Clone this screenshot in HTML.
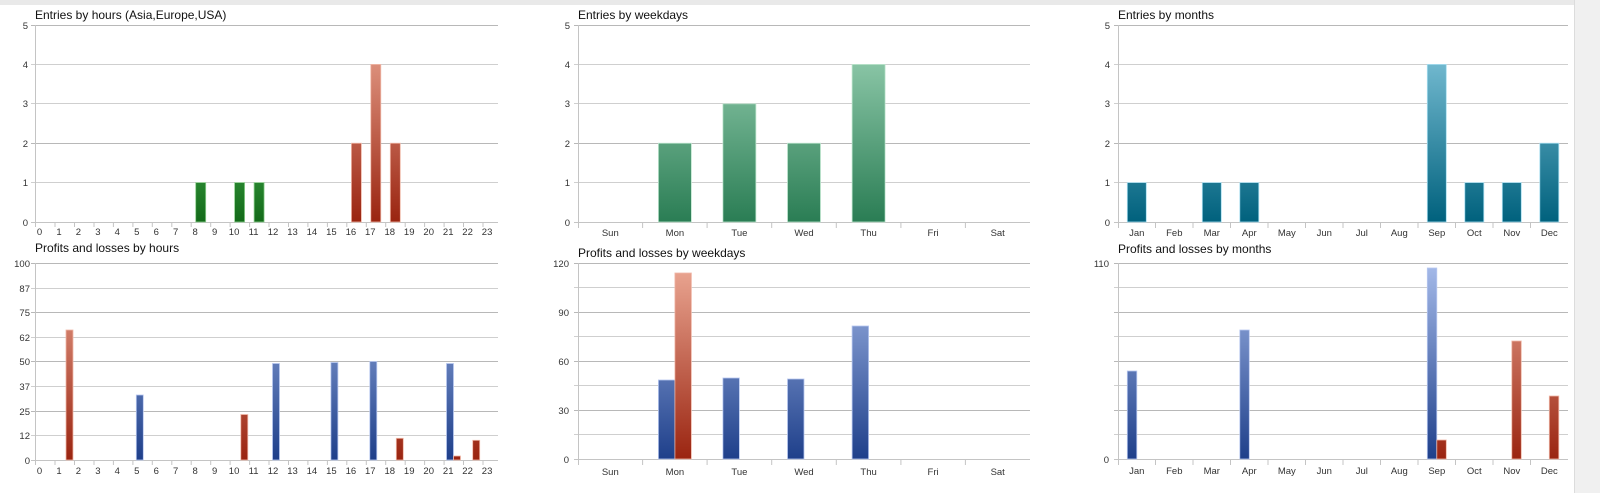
<!DOCTYPE html>
<html><head><meta charset="utf-8"><style>
html,body{margin:0;padding:0;background:#fff;width:1600px;height:493px;overflow:hidden}
svg{display:block;font-family:"Liberation Sans",sans-serif}
.t{font-size:12px;fill:#111}
.a{font-size:9.5px;fill:#333}
.g{stroke:#cfcfcf;stroke-width:1}
.gd{stroke:#b8b8b8;stroke-width:1}
.ax{stroke:#c4c4c4;stroke-width:1}
</style></head><body>
<svg width="1600" height="493" viewBox="0 0 1600 493">
<defs>
<linearGradient id="red" gradientUnits="userSpaceOnUse" x1="0" y1="25" x2="0" y2="222"><stop offset="0" stop-color="#eca995"/><stop offset="1" stop-color="#9a2410"/></linearGradient>
<linearGradient id="red2" gradientUnits="userSpaceOnUse" x1="0" y1="263" x2="0" y2="460"><stop offset="0" stop-color="#eca995"/><stop offset="1" stop-color="#9a2410"/></linearGradient>
<linearGradient id="blue2" gradientUnits="userSpaceOnUse" x1="0" y1="263" x2="0" y2="460"><stop offset="0" stop-color="#a6bbea"/><stop offset="1" stop-color="#1e3f8a"/></linearGradient>
<linearGradient id="grn" x1="0" y1="0" x2="0" y2="1"><stop offset="0" stop-color="#27842e"/><stop offset="1" stop-color="#136a19"/></linearGradient>
<linearGradient id="wg" gradientUnits="userSpaceOnUse" x1="0" y1="25" x2="0" y2="222"><stop offset="0" stop-color="#a0d6b9"/><stop offset="1" stop-color="#2a7d54"/></linearGradient>
<linearGradient id="teal" gradientUnits="userSpaceOnUse" x1="0" y1="25" x2="0" y2="222"><stop offset="0" stop-color="#8ccde2"/><stop offset="1" stop-color="#00617d"/></linearGradient>
</defs>
<rect x="0" y="0" width="1600" height="5" fill="#e9e9e9"/>
<rect x="1574" y="0" width="26" height="493" fill="#f0f0f0"/>
<line x1="1574.5" y1="0" x2="1574.5" y2="493" stroke="#dcdcdc"/>

<!-- ============ Chart 1 top ============ -->
<text class="t" x="35" y="19">Entries by hours (Asia,Europe,USA)</text>
<g>
<line class="gd" x1="31" y1="25.5" x2="498" y2="25.5"/>
<line class="g" x1="31" y1="64.5" x2="498" y2="64.5"/>
<line class="g" x1="31" y1="103.5" x2="498" y2="103.5"/>
<line class="gd" x1="31" y1="143.5" x2="498" y2="143.5"/>
<line class="g" x1="31" y1="182.5" x2="498" y2="182.5"/>
<line class="ax" x1="31" y1="222.5" x2="498" y2="222.5"/>
<line class="ax" x1="35.5" y1="25" x2="35.5" y2="222"/>
</g>
<g class="a" text-anchor="end">
<text x="28" y="29">5</text><text x="28" y="68">4</text><text x="28" y="107">3</text><text x="28" y="147">2</text><text x="28" y="186">1</text><text x="28" y="226">0</text>
</g>
<g stroke="#c4c4c4">
<path d="M35.5 222v5M55 222v5M74.5 222v5M94 222v5M113.4 222v5M132.9 222v5M152.3 222v5M171.8 222v5M191.2 222v5M210.7 222v5M230.1 222v5M249.6 222v5M269 222v5M288.5 222v5M307.9 222v5M327.4 222v5M346.8 222v5M366.3 222v5M385.7 222v5M405.2 222v5M424.6 222v5M444.1 222v5M463.5 222v5M483 222v5"/>
</g>
<g class="a" text-anchor="middle">
<text x="39.5" y="235">0</text><text x="59" y="235">1</text><text x="78.4" y="235">2</text><text x="97.9" y="235">3</text><text x="117.3" y="235">4</text><text x="136.8" y="235">5</text><text x="156.3" y="235">6</text><text x="175.7" y="235">7</text><text x="195.2" y="235">8</text><text x="214.6" y="235">9</text><text x="234.1" y="235">10</text><text x="253.6" y="235">11</text><text x="273" y="235">12</text><text x="292.5" y="235">13</text><text x="311.9" y="235">14</text><text x="331.4" y="235">15</text><text x="350.9" y="235">16</text><text x="370.3" y="235">17</text><text x="389.8" y="235">18</text><text x="409.2" y="235">19</text><text x="428.7" y="235">20</text><text x="448.2" y="235">21</text><text x="467.6" y="235">22</text><text x="487.1" y="235">23</text>
</g>
<g stroke="#8fd090" stroke-width="0.8">
<rect x="195.7" y="182.6" width="10" height="39.4" fill="url(#grn)"/>
<rect x="234.6" y="182.6" width="10" height="39.4" fill="url(#grn)"/>
<rect x="254.1" y="182.6" width="10" height="39.4" fill="url(#grn)"/>
</g>
<g stroke="#f0b8a8" stroke-width="0.8" fill="url(#red)">
<rect x="351.4" y="143.2" width="10" height="78.8"/>
<rect x="370.8" y="64.4" width="10" height="157.6"/>
<rect x="390.3" y="143.2" width="10" height="78.8"/>
</g>

<!-- ============ Chart 1 bottom ============ -->
<text class="t" x="35" y="252">Profits and losses by hours</text>
<g>
<line class="gd" x1="31" y1="263.5" x2="498" y2="263.5"/>
<line class="g" x1="31" y1="288.5" x2="498" y2="288.5"/>
<line class="gd" x1="31" y1="312.5" x2="498" y2="312.5"/>
<line class="g" x1="31" y1="337.5" x2="498" y2="337.5"/>
<line class="gd" x1="31" y1="361.5" x2="498" y2="361.5"/>
<line class="g" x1="31" y1="386.5" x2="498" y2="386.5"/>
<line class="gd" x1="31" y1="411.5" x2="498" y2="411.5"/>
<line class="g" x1="31" y1="435.5" x2="498" y2="435.5"/>
<line class="ax" x1="31" y1="460.5" x2="498" y2="460.5"/>
<line class="ax" x1="35.5" y1="263" x2="35.5" y2="460"/>
</g>
<g class="a" text-anchor="end">
<text x="30" y="267">100</text><text x="30" y="292">87</text><text x="30" y="316">75</text><text x="30" y="341">62</text><text x="30" y="365">50</text><text x="30" y="390">37</text><text x="30" y="415">25</text><text x="30" y="439">12</text><text x="30" y="464">0</text>
</g>
<g stroke="#c4c4c4">
<path d="M35.5 460v5M55 460v5M74.5 460v5M94 460v5M113.4 460v5M132.9 460v5M152.3 460v5M171.8 460v5M191.2 460v5M210.7 460v5M230.1 460v5M249.6 460v5M269 460v5M288.5 460v5M307.9 460v5M327.4 460v5M346.8 460v5M366.3 460v5M385.7 460v5M405.2 460v5M424.6 460v5M444.1 460v5M463.5 460v5M483 460v5"/>
</g>
<g class="a" text-anchor="middle">
<text x="39.5" y="474">0</text><text x="59" y="474">1</text><text x="78.4" y="474">2</text><text x="97.9" y="474">3</text><text x="117.3" y="474">4</text><text x="136.8" y="474">5</text><text x="156.3" y="474">6</text><text x="175.7" y="474">7</text><text x="195.2" y="474">8</text><text x="214.6" y="474">9</text><text x="234.1" y="474">10</text><text x="253.6" y="474">11</text><text x="273" y="474">12</text><text x="292.5" y="474">13</text><text x="311.9" y="474">14</text><text x="331.4" y="474">15</text><text x="350.9" y="474">16</text><text x="370.3" y="474">17</text><text x="389.8" y="474">18</text><text x="409.2" y="474">19</text><text x="428.7" y="474">20</text><text x="448.2" y="474">21</text><text x="467.6" y="474">22</text><text x="487.1" y="474">23</text>
</g>
<g stroke="#b8c8f0" stroke-width="0.8" fill="url(#blue2)">
<rect x="136.3" y="395" width="7" height="65"/>
<rect x="272.5" y="363.5" width="7" height="96.5"/>
<rect x="330.9" y="362.5" width="7" height="97.5"/>
<rect x="369.8" y="361.5" width="7" height="98.5"/>
<rect x="446.5" y="363.5" width="7" height="96.5"/>
</g>
<g stroke="#f0b8a8" stroke-width="0.8" fill="url(#red2)">
<rect x="66" y="330" width="7" height="130"/>
<rect x="240.8" y="414.5" width="7" height="45.5"/>
<rect x="396.3" y="438.3" width="7" height="21.7"/>
<rect x="453.5" y="456" width="7" height="4"/>
<rect x="472.7" y="440.3" width="7" height="19.7"/>
</g>

<!-- ============ Chart 2 top ============ -->
<text class="t" x="578" y="19">Entries by weekdays</text>
<g>
<line class="gd" x1="574" y1="25.5" x2="1030" y2="25.5"/>
<line class="g" x1="574" y1="64.5" x2="1030" y2="64.5"/>
<line class="g" x1="574" y1="103.5" x2="1030" y2="103.5"/>
<line class="gd" x1="574" y1="143.5" x2="1030" y2="143.5"/>
<line class="g" x1="574" y1="182.5" x2="1030" y2="182.5"/>
<line class="ax" x1="574" y1="222.5" x2="1030" y2="222.5"/>
<line class="ax" x1="578.5" y1="25" x2="578.5" y2="222"/>
</g>
<g class="a" text-anchor="end">
<text x="570" y="29">5</text><text x="570" y="68">4</text><text x="570" y="107">3</text><text x="570" y="147">2</text><text x="570" y="186">1</text><text x="570" y="226">0</text>
</g>
<path stroke="#c4c4c4" d="M578.5 222v6M642.6 222v6M707.1 222v6M771.7 222v6M836.3 222v6M900.9 222v6M965.4 222v6"/>
<g class="a" text-anchor="middle">
<text x="610.3" y="236">Sun</text><text x="674.9" y="236">Mon</text><text x="739.4" y="236">Tue</text><text x="804" y="236">Wed</text><text x="868.6" y="236">Thu</text><text x="933.1" y="236">Fri</text><text x="997.7" y="236">Sat</text>
</g>
<g stroke="#bfe6cf" stroke-width="0.8" fill="url(#wg)">
<rect x="658.4" y="143.2" width="33" height="78.8"/>
<rect x="722.9" y="103.8" width="33" height="118.2"/>
<rect x="787.5" y="143.2" width="33" height="78.8"/>
<rect x="852.1" y="64.4" width="33" height="157.6"/>
</g>

<!-- ============ Chart 2 bottom ============ -->
<text class="t" x="578" y="257">Profits and losses by weekdays</text>
<g>
<line class="gd" x1="574" y1="263.5" x2="1030" y2="263.5"/>
<line class="g" x1="574" y1="287.5" x2="1030" y2="287.5"/>
<line class="gd" x1="574" y1="312.5" x2="1030" y2="312.5"/>
<line class="g" x1="574" y1="336.5" x2="1030" y2="336.5"/>
<line class="gd" x1="574" y1="361.5" x2="1030" y2="361.5"/>
<line class="g" x1="574" y1="385.5" x2="1030" y2="385.5"/>
<line class="gd" x1="574" y1="410.5" x2="1030" y2="410.5"/>
<line class="g" x1="574" y1="434.5" x2="1030" y2="434.5"/>
<line class="ax" x1="574" y1="459.5" x2="1030" y2="459.5"/>
<line class="ax" x1="578.5" y1="263" x2="578.5" y2="459"/>
</g>
<g class="a" text-anchor="end">
<text x="569" y="267">120</text><text x="569" y="316">90</text><text x="569" y="365">60</text><text x="569" y="414">30</text><text x="569" y="463">0</text>
</g>
<path stroke="#c4c4c4" d="M578.5 459v6M642.6 459v6M707.1 459v6M771.7 459v6M836.3 459v6M900.9 459v6M965.4 459v6"/>
<g class="a" text-anchor="middle">
<text x="610.3" y="475">Sun</text><text x="674.9" y="475">Mon</text><text x="739.4" y="475">Tue</text><text x="804" y="475">Wed</text><text x="868.6" y="475">Thu</text><text x="933.1" y="475">Fri</text><text x="997.7" y="475">Sat</text>
</g>
<g stroke="#b8c8f0" stroke-width="0.8" fill="url(#blue2)">
<rect x="658.4" y="380" width="16.5" height="79"/>
<rect x="722.9" y="378" width="16.5" height="81"/>
<rect x="787.5" y="379" width="16.5" height="80"/>
<rect x="852.1" y="326" width="16.5" height="133"/>
</g>
<rect x="674.9" y="273" width="16.5" height="186" fill="url(#red2)" stroke="#f0b8a8" stroke-width="0.8"/>

<!-- ============ Chart 3 top ============ -->
<text class="t" x="1118" y="19">Entries by months</text>
<g>
<line class="gd" x1="1114" y1="25.5" x2="1568" y2="25.5"/>
<line class="g" x1="1114" y1="64.5" x2="1568" y2="64.5"/>
<line class="g" x1="1114" y1="103.5" x2="1568" y2="103.5"/>
<line class="gd" x1="1114" y1="143.5" x2="1568" y2="143.5"/>
<line class="g" x1="1114" y1="182.5" x2="1568" y2="182.5"/>
<line class="ax" x1="1114" y1="222.5" x2="1568" y2="222.5"/>
<line class="ax" x1="1118.5" y1="25" x2="1118.5" y2="222"/>
</g>
<g class="a" text-anchor="end">
<text x="1110" y="29">5</text><text x="1110" y="68">4</text><text x="1110" y="107">3</text><text x="1110" y="147">2</text><text x="1110" y="186">1</text><text x="1110" y="226">0</text>
</g>
<path stroke="#c4c4c4" d="M1118.5 222v6M1155.5 222v6M1193 222v6M1230.5 222v6M1268 222v6M1305.5 222v6M1343 222v6M1380.5 222v6M1418 222v6M1455.5 222v6M1493 222v6M1530.5 222v6"/>
<g class="a" text-anchor="middle">
<text x="1136.8" y="236">Jan</text><text x="1174.3" y="236">Feb</text><text x="1211.8" y="236">Mar</text><text x="1249.3" y="236">Apr</text><text x="1286.8" y="236">May</text><text x="1324.3" y="236">Jun</text><text x="1361.8" y="236">Jul</text><text x="1399.3" y="236">Aug</text><text x="1436.8" y="236">Sep</text><text x="1474.3" y="236">Oct</text><text x="1511.8" y="236">Nov</text><text x="1549.3" y="236">Dec</text>
</g>
<g stroke="#a8def0" stroke-width="0.8" fill="url(#teal)">
<rect x="1127.3" y="182.6" width="19" height="39.4"/>
<rect x="1202.3" y="182.6" width="19" height="39.4"/>
<rect x="1239.8" y="182.6" width="19" height="39.4"/>
<rect x="1427.3" y="64.4" width="19" height="157.6"/>
<rect x="1464.8" y="182.6" width="19" height="39.4"/>
<rect x="1502.3" y="182.6" width="19" height="39.4"/>
<rect x="1539.8" y="143.2" width="19" height="78.8"/>
</g>

<!-- ============ Chart 3 bottom ============ -->
<text class="t" x="1118" y="253">Profits and losses by months</text>
<g>
<line class="gd" x1="1114" y1="263.5" x2="1568" y2="263.5"/>
<line class="g" x1="1114" y1="287.5" x2="1568" y2="287.5"/>
<line class="gd" x1="1114" y1="312.5" x2="1568" y2="312.5"/>
<line class="g" x1="1114" y1="336.5" x2="1568" y2="336.5"/>
<line class="gd" x1="1114" y1="361.5" x2="1568" y2="361.5"/>
<line class="g" x1="1114" y1="385.5" x2="1568" y2="385.5"/>
<line class="gd" x1="1114" y1="410.5" x2="1568" y2="410.5"/>
<line class="g" x1="1114" y1="434.5" x2="1568" y2="434.5"/>
<line class="ax" x1="1114" y1="459.5" x2="1568" y2="459.5"/>
<line class="ax" x1="1118.5" y1="263" x2="1118.5" y2="459"/>
</g>
<g class="a" text-anchor="end">
<text x="1109" y="267">110</text><text x="1109" y="463">0</text>
</g>
<path stroke="#c4c4c4" d="M1118.5 459v6M1155.5 459v6M1193 459v6M1230.5 459v6M1268 459v6M1305.5 459v6M1343 459v6M1380.5 459v6M1418 459v6M1455.5 459v6M1493 459v6M1530.5 459v6"/>
<g class="a" text-anchor="middle">
<text x="1136.8" y="474">Jan</text><text x="1174.3" y="474">Feb</text><text x="1211.8" y="474">Mar</text><text x="1249.3" y="474">Apr</text><text x="1286.8" y="474">May</text><text x="1324.3" y="474">Jun</text><text x="1361.8" y="474">Jul</text><text x="1399.3" y="474">Aug</text><text x="1436.8" y="474">Sep</text><text x="1474.3" y="474">Oct</text><text x="1511.8" y="474">Nov</text><text x="1549.3" y="474">Dec</text>
</g>
<g stroke="#b8c8f0" stroke-width="0.8" fill="url(#blue2)">
<rect x="1127.3" y="371" width="9.5" height="88"/>
<rect x="1239.8" y="330" width="9.5" height="129"/>
<rect x="1427.3" y="268" width="9.5" height="191"/>
</g>
<g stroke="#f0b8a8" stroke-width="0.8" fill="url(#red2)">
<rect x="1436.8" y="440" width="9.5" height="19"/>
<rect x="1511.8" y="341" width="9.5" height="118"/>
<rect x="1549.3" y="396" width="9.5" height="63"/>
</g>
</svg>
</body></html>
